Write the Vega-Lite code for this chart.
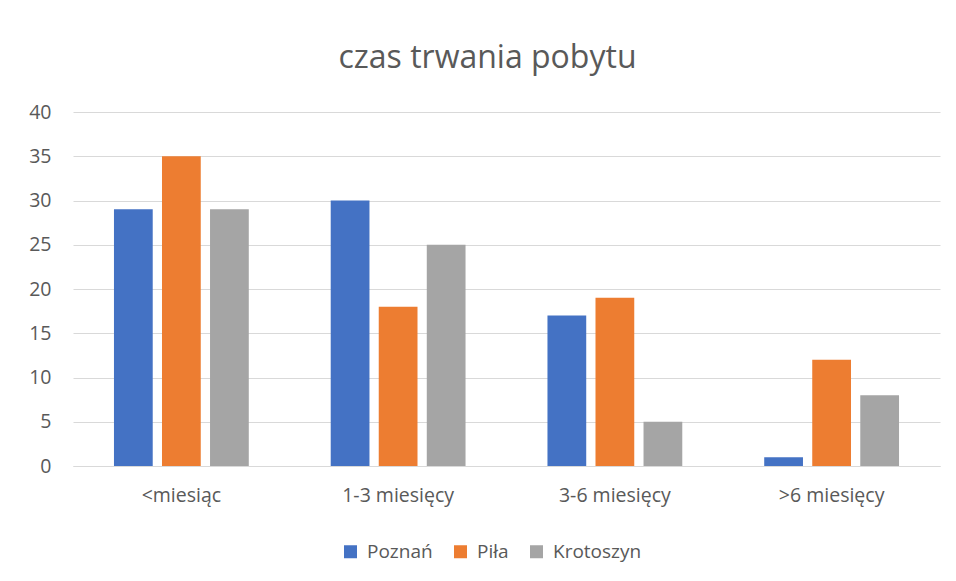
{
  "$schema": "https://vega.github.io/schema/vega-lite/v6.json",
  "width": 867,
  "height": 354,
  "autosize": {"type": "none"},
  "padding": {"left": 73, "top": 112, "right": 16, "bottom": 115},
  "background": "white",
  "title": {
    "text": "czas trwania pobytu",
    "fontSize": 32,
    "font": "Open Sans",
    "fontWeight": "normal",
    "color": "#595959",
    "anchor": "middle",
    "dx": -19,
    "offset": 27
  },
  "data": {
    "values": [
      {"kategoria": "<miesiąc", "miasto": "Poznań", "wartosc": 29},
      {"kategoria": "<miesiąc", "miasto": "Piła", "wartosc": 35},
      {"kategoria": "<miesiąc", "miasto": "Krotoszyn", "wartosc": 29},
      {"kategoria": "1-3 miesięcy", "miasto": "Poznań", "wartosc": 30},
      {"kategoria": "1-3 miesięcy", "miasto": "Piła", "wartosc": 18},
      {"kategoria": "1-3 miesięcy", "miasto": "Krotoszyn", "wartosc": 25},
      {"kategoria": "3-6 miesięcy", "miasto": "Poznań", "wartosc": 17},
      {"kategoria": "3-6 miesięcy", "miasto": "Piła", "wartosc": 19},
      {"kategoria": "3-6 miesięcy", "miasto": "Krotoszyn", "wartosc": 5},
      {"kategoria": ">6 miesięcy", "miasto": "Poznań", "wartosc": 1},
      {"kategoria": ">6 miesięcy", "miasto": "Piła", "wartosc": 12},
      {"kategoria": ">6 miesięcy", "miasto": "Krotoszyn", "wartosc": 8}
    ]
  },
  "mark": {"type": "bar"},
  "encoding": {
    "x": {
      "field": "kategoria",
      "type": "nominal",
      "sort": ["<miesiąc", "1-3 miesięcy", "3-6 miesięcy", ">6 miesięcy"],
      "scale": {"paddingInner": 0.378, "paddingOuter": 0.189},
      "axis": {
        "title": null,
        "labelAngle": 0,
        "labelFont": "Open Sans",
        "labelFontSize": 19.5,
        "labelColor": "#595959",
        "labelPadding": 20,
        "ticks": false,
        "domain": true,
        "domainColor": "#d9d9d9",
        "grid": false
      }
    },
    "xOffset": {
      "field": "miasto",
      "type": "nominal",
      "sort": ["Poznań", "Piła", "Krotoszyn"],
      "scale": {"paddingInner": 0.193, "paddingOuter": 0}
    },
    "y": {
      "field": "wartosc",
      "type": "quantitative",
      "scale": {"domain": [0, 40]},
      "axis": {
        "title": null,
        "values": [0, 5, 10, 15, 20, 25, 30, 35, 40],
        "labelFont": "Open Sans",
        "labelFontSize": 19.5,
        "labelColor": "#595959",
        "labelPadding": 22,
        "ticks": false,
        "domain": false,
        "grid": true,
        "gridColor": "#d9d9d9",
        "gridWidth": 1
      }
    },
    "color": {
      "field": "miasto",
      "type": "nominal",
      "sort": ["Poznań", "Piła", "Krotoszyn"],
      "scale": {
        "domain": ["Poznań", "Piła", "Krotoszyn"],
        "range": ["#4472C4", "#ED7D31", "#A5A5A5"]
      },
      "legend": {
        "title": null,
        "orient": "none",
        "direction": "horizontal",
        "legendX": 268,
        "legendY": 430,
        "symbolType": "square",
        "symbolSize": 169,
        "symbolStrokeWidth": 0,
        "labelFont": "Open Sans",
        "labelFontSize": 19,
        "labelColor": "#595959",
        "labelOffset": 7,
        "columnPadding": 18
      }
    }
  },
  "config": {
    "view": {"stroke": null}
  }
}
